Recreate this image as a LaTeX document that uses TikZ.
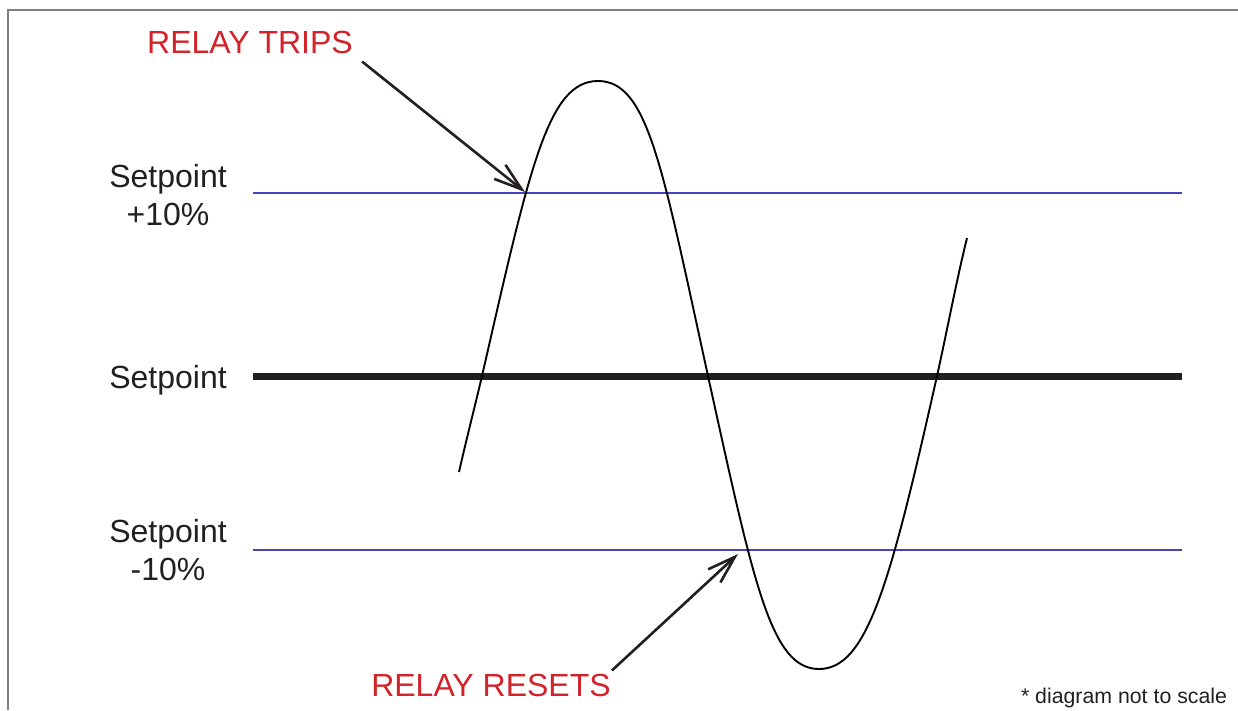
\documentclass[tikz,border=0pt]{standalone}
\usepackage{fontspec}
\setmainfont{Liberation Sans}
\usetikzlibrary{arrows.meta}
\definecolor{inkdark}{HTML}{231F20}
\definecolor{relayred}{HTML}{D2232A}
\definecolor{bandblue}{HTML}{4444C0}
\definecolor{framegray}{HTML}{808080}
\tikzset{
  axislabel/.style={inner sep=0pt, align=center, text=inkdark,
    font=\fontsize{32}{38}\selectfont},
  relaylabel/.style={inner sep=0pt, text=relayred,
    font=\fontsize{32}{38}\selectfont},
  notelabel/.style={inner sep=0pt, text=inkdark,
    font=\fontsize{21.3}{26}\selectfont},
  bandline/.style={draw=bandblue, line width=1.1pt},
  setline/.style={draw=inkdark, line width=7pt},
  wave/.style={draw=black, line width=1.9pt},
  callout/.style={-{Straight Barb[length=28pt,width=18pt]}, line width=2.6pt, color=inkdark},
  framelines/.style={draw=framegray, line width=1.5pt},
}

\begin{document}
\begin{tikzpicture}[x=1pt, y=-1pt]
  \useasboundingbox (0,0) rectangle (1238,710);
  \draw[framelines] (8,710) |- (1238,10);

  % setpoint band
  \draw[bandline] (253,193) -- (1182,193);
  \draw[setline] (253,376) -- (1182,376);
  \draw[bandline] (253,550) -- (1182,550);

  \node[axislabel, anchor=north] (plus) at (168,164) {Setpoint\\+10\%};
  \node[axislabel, anchor=north] (mid) at (168,365) {Setpoint};
  \node[axislabel, anchor=north] (minus) at (168,519) {Setpoint\\-10\%};

  % measured value
  \draw[wave] (459,472) .. controls (466,441) and (474,410) .. (482,376)
    .. controls (530,166) and (548,81) .. (598,81)
    .. controls (648,81) and (662,166) .. (708,376)
    .. controls (754,585) and (771,669) .. (819,669)
    .. controls (867,669) and (890,585) .. (937,376)
    .. controls (947,331) and (957,278) .. (967,238);
  \coordinate (tripPt) at (525,192);
  \coordinate (resetPt) at (738,554);

  \node[relaylabel, anchor=base] (trips) at (250,53) {RELAY TRIPS};
  \node[relaylabel, anchor=base] (resets) at (491,696) {RELAY RESETS};
  \node[notelabel, anchor=base] (note) at (1124,703) {* diagram not to scale};

  \draw[callout] ([shift={(9,8)}]trips.south east) -- (tripPt);
  \draw[callout] ([shift={(1,-3)}]resets.north east) -- (resetPt);
\end{tikzpicture}
\end{document}
